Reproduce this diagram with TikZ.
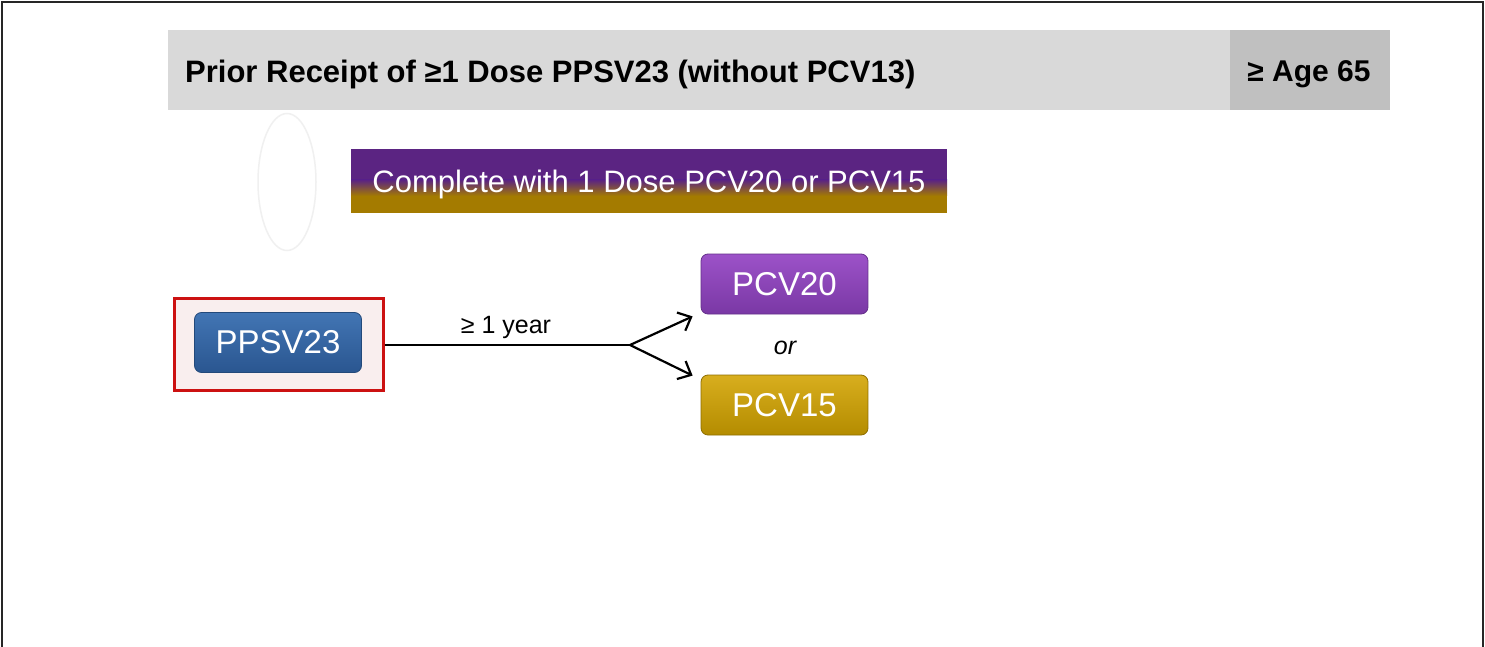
\documentclass[tikz,border=0pt]{standalone}
\usepackage{fontspec}
\setmainfont{Liberation Sans}
\usetikzlibrary{arrows.meta,calc,shapes.geometric}
\definecolor{hdrgray}{HTML}{D9D9D9}
\definecolor{agegray}{HTML}{C0C0C0}
\definecolor{bpurple}{HTML}{5B2482}
\definecolor{bgold}{HTML}{A47B00}
\definecolor{redframe}{HTML}{CC1111}
\definecolor{pinkfill}{HTML}{F9EEEE}
\definecolor{bluetop}{HTML}{4275B4}
\definecolor{bluebot}{HTML}{2A5690}
\definecolor{bluedraw}{HTML}{23497A}
\definecolor{purtop}{HTML}{9C52C8}
\definecolor{purbot}{HTML}{7A38A5}
\definecolor{purdraw}{HTML}{64308A}
\definecolor{goldtop}{HTML}{D8AE1E}
\definecolor{goldbot}{HTML}{B48C00}
\definecolor{golddraw}{HTML}{8E6E00}
\tikzset{
  vaccine/.style={rounded corners=7pt, minimum width=167pt, minimum height=60pt,
    inner sep=0pt, text=white, font=\fontsize{33}{38}\selectfont, line width=0.8pt},
  conn/.style={line width=2.2pt, black},
  arr/.style={conn, -{Straight Barb[length=11pt,width=20pt,line width=2.2pt]}},
}
\begin{document}
\begin{tikzpicture}[x=1pt,y=-1pt]
\useasboundingbox (0,0) rectangle (1485,647);
\fill[white] (0,0) rectangle (1485,647);
% outer frame
\draw[line width=2pt, black!85] (2,660) -- (2,2) -- (1483,2) -- (1483,660);
% header
\node[fill=hdrgray, minimum width=1062pt, minimum height=80pt, inner sep=0pt, anchor=north west] (hdr) at (168,30) {};
\node[fill=agegray, minimum width=160pt, minimum height=80pt, inner sep=0pt, anchor=north west] (agebox) at (1230,30) {};
\node[anchor=west, inner sep=0pt, font=\fontsize{31}{36}\selectfont\bfseries] (title) at (185,74) {Prior Receipt of ≥1 Dose PPSV23 (without PCV13)};
\node[inner sep=0pt, font=\fontsize{30}{36}\selectfont\bfseries] (age) at (1309,74) {≥ Age 65};
% faint ellipse
\node[ellipse, draw=black!6, line width=1.5pt, minimum width=58pt, minimum height=137pt, inner sep=0pt] (ghost) at (287,182) {};
% banner
\fill[bpurple] (351,149) rectangle (947,180);
\shade[top color=bpurple, bottom color=bgold] (351,180) rectangle (947,196);
\fill[bgold] (351,196) rectangle (947,213);
\node[minimum width=596pt, minimum height=64pt, inner sep=0pt, text=white, font=\fontsize{31}{36}\selectfont] (banner) at (649,184) {Complete with 1 Dose PCV20 or PCV15};
% red box
\node[draw=redframe, fill=pinkfill, line width=3pt, minimum width=209pt, minimum height=92pt, inner sep=0pt] (red) at (278.5,344) {};
\node[vaccine, draw=bluedraw, top color=bluetop, bottom color=bluebot] (ppsv) at (278,342.5) {PPSV23};
% targets
\node[vaccine, draw=purdraw, top color=purtop, bottom color=purbot] (pcv20) at (784.5,284) {PCV20};
\node[vaccine, draw=golddraw, top color=goldtop, bottom color=goldbot] (pcv15) at (784.5,405) {PCV15};
\node[font=\fontsize{25}{30}\selectfont\itshape] (or) at (785,348) {or};
% connectors
\coordinate (split) at (630,345);
\draw[conn] (red.east |- split) -- (split);
\node[font=\fontsize{25}{30}\selectfont, anchor=base] (year) at (506,333) {≥ 1 year};
\draw[arr] (split) -- ($(pcv20.south west)+(-8,2)$);
\draw[arr] (split) -- ($(pcv15.north west)+(-8,1)$);
\end{tikzpicture}
\end{document}
